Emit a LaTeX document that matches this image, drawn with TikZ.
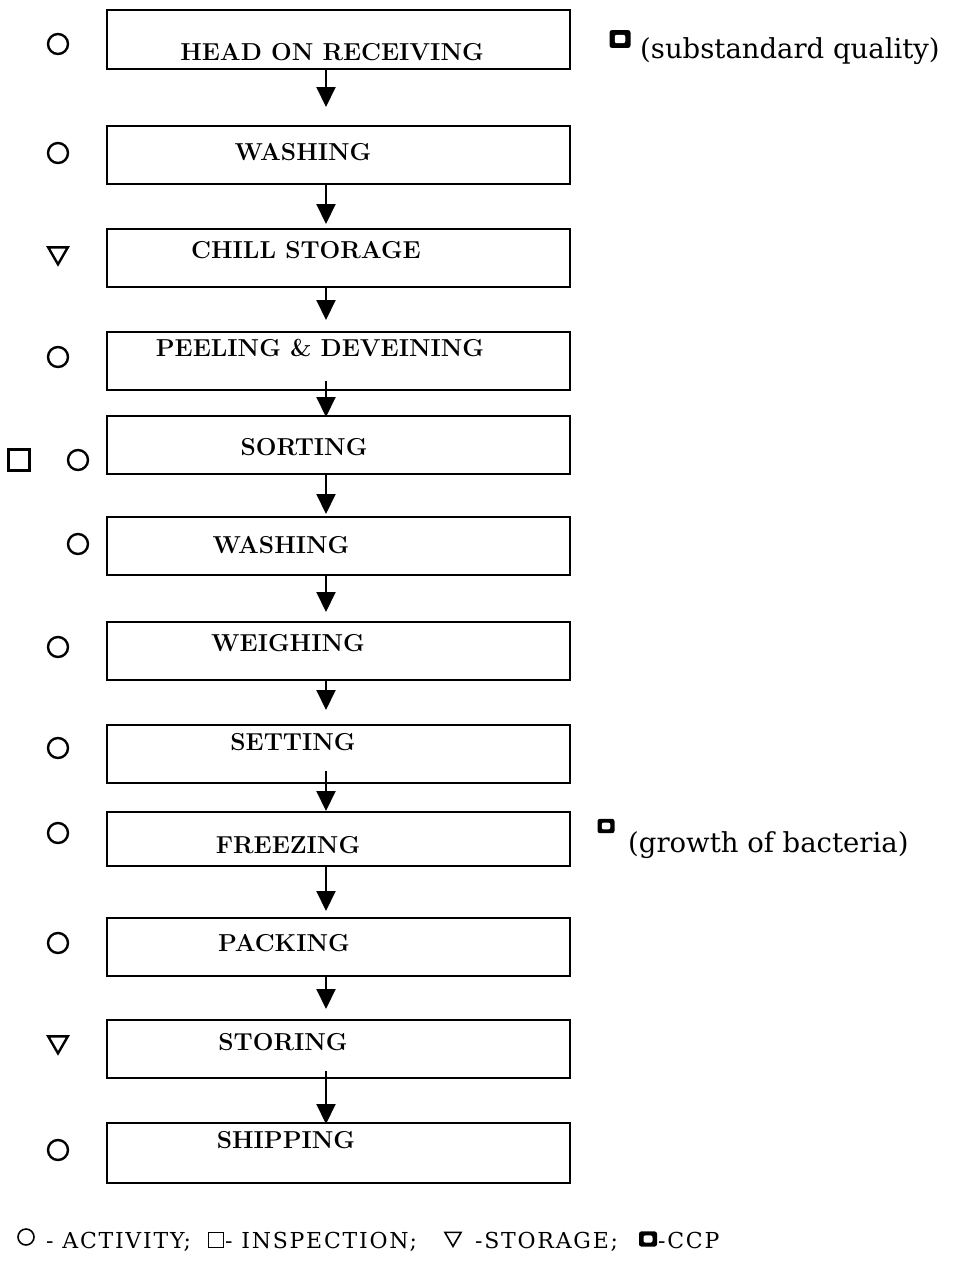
\documentclass[tikz,border=0pt]{standalone}
\usepackage{fontspec}
\newfontfamily\dvs{DejaVu Serif}
\newfontfamily\dvsl[LetterSpace=8]{DejaVu Serif}
\usetikzlibrary{arrows.meta,shapes.geometric}
\begin{document}
\begin{tikzpicture}[x=1pt,y=-1pt,
  box/.style={draw,line width=2pt,minimum width=463pt,inner sep=0pt},
  lbl/.style={font=\fontsize{24.5}{28}\selectfont\bfseries,inner sep=0pt},
  arr/.style={line width=2pt,-{Triangle[width=19pt,length=20pt]}},
  act/.style={draw,circle,line width=2.4pt,minimum size=20pt,inner sep=0pt},
  insp/.style={draw,line width=2.4pt,minimum size=21pt,inner sep=0pt},
  stor/.style={draw,isosceles triangle,shape border rotate=-90,isosceles triangle apex angle=60,line width=2.4pt,minimum height=17pt,inner sep=0pt},
  side/.style={font=\dvs\fontsize{27.5}{32}\selectfont,inner sep=0pt,anchor=base west},
  leg/.style={font=\dvsl\fontsize{22}{26}\selectfont,inner sep=0pt,anchor=base west}]
\useasboundingbox (0,0) rectangle (956,1267);
% boxes
\node[box,minimum height=59pt] (b1) at (338.5,39.5) {};
\node[box,minimum height=58pt] (b2) at (338.5,155) {};
\node[box,minimum height=58pt] (b3) at (338.5,258) {};
\node[box,minimum height=58pt] (b4) at (338.5,361) {};
\node[box,minimum height=58pt] (b5) at (338.5,445) {};
\node[box,minimum height=58pt] (b6) at (338.5,546) {};
\node[box,minimum height=58pt] (b7) at (338.5,651) {};
\node[box,minimum height=58pt] (b8) at (338.5,754) {};
\node[box,minimum height=54pt] (b9) at (338.5,839) {};
\node[box,minimum height=58pt] (b10) at (338.5,947) {};
\node[box,minimum height=58pt] (b11) at (338.5,1049) {};
\node[box,minimum height=60pt] (b12) at (338.5,1153) {};
% labels
\node[lbl] (t1) at (332,52) {HEAD ON RECEIVING};
\node[lbl] (t2) at (303,152) {WASHING};
\node[lbl] (t3) at (306,250) {CHILL STORAGE};
\node[lbl] (t4) at (320,348) {PEELING \& DEVEINING};
\node[lbl] (t5) at (304,447) {SORTING};
\node[lbl] (t6) at (281,545) {WASHING};
\node[lbl] (t7) at (288,643) {WEIGHING};
\node[lbl] (t8) at (293,742) {SETTING};
\node[lbl] (t9) at (288,845) {FREEZING};
\node[lbl] (t10) at (284,943) {PACKING};
\node[lbl] (t11) at (283,1042) {STORING};
\node[lbl] (t12) at (286,1140) {SHIPPING};
% arrows
\def\ax{-12.5pt}
\draw[arr,shorten >=18pt] ([xshift=\ax]b1.south) -- ([xshift=\ax]b2.north);
\draw[arr,shorten >=4pt] ([xshift=\ax]b2.south) -- ([xshift=\ax]b3.north);
\draw[arr,shorten >=11pt] ([xshift=\ax]b3.south) -- ([xshift=\ax]b4.north);
\draw[arr,shorten <=-10pt,shorten >=-2pt] ([xshift=\ax]b4.south) -- ([xshift=\ax]b5.north);
\draw[arr,shorten >=2pt] ([xshift=\ax]b5.south) -- ([xshift=\ax]b6.north);
\draw[arr,shorten >=9pt] ([xshift=\ax]b6.south) -- ([xshift=\ax]b7.north);
\draw[arr,shorten >=14pt] ([xshift=\ax]b7.south) -- ([xshift=\ax]b8.north);
\draw[arr,shorten <=-13pt] ([xshift=\ax]b8.south) -- ([xshift=\ax]b9.north);
\draw[arr,shorten >=6pt] ([xshift=\ax]b9.south) -- ([xshift=\ax]b10.north);
\draw[arr,shorten >=10pt] ([xshift=\ax]b10.south) -- ([xshift=\ax]b11.north);
\draw[arr,shorten <=-8pt,shorten >=-2pt] ([xshift=\ax]b11.south) -- ([xshift=\ax]b12.north);
% left symbols
\node[act] (s1) at (58,44) {};
\node[act] (s2) at (58,153) {};
\node[stor] (s3) at (58,253) {};
\node[act] (s4) at (58,357) {};
\node[insp] (s5a) at (19,460) {};
\node[act] (s5b) at (78,460) {};
\node[act] (s6) at (78,544) {};
\node[act] (s7) at (58,647) {};
\node[act] (s8) at (58,748) {};
\node[act] (s9) at (58,833) {};
\node[act] (s10) at (58,943) {};
\node[stor] (s11) at (58,1042) {};
\node[act] (s12) at (58,1150) {};
% CCP marks
\newcommand{\ccpmark}[3]{%
  \fill[rounded corners=2.5pt] (#1-#3,#2-0.85*#3) rectangle (#1+#3,#2+0.85*#3);
  \fill[white,rounded corners=2pt] (#1-0.5*#3,#2-0.4*#3) rectangle (#1+0.5*#3,#2+0.4*#3);}
\ccpmark{620}{39}{10.5}
\node[side] (c1) at (640,58) {(substandard quality)};
\ccpmark{606}{826}{8.5}
\node[side] (c2) at (628,852) {(growth of bacteria)};
% legend
\node[draw,circle,line width=1.6pt,minimum size=16pt,inner sep=0pt] (l1) at (26,1237) {};
\node[leg] (l1t) at (46,1248) {- ACTIVITY;};
\node[draw,line width=1.6pt,minimum size=15pt,inner sep=0pt] (l2) at (216,1240) {};
\node[leg] (l2t) at (225,1248) {- INSPECTION;};
\node[draw,isosceles triangle,shape border rotate=-90,isosceles triangle apex angle=60,line width=1.6pt,minimum height=14pt,inner sep=0pt] (l3) at (453,1237) {};
\node[leg] (l3t) at (475,1248) {-STORAGE;};
\ccpmark{648}{1239}{9}
\node[leg] (l4t) at (658,1248) {-CCP};
\end{tikzpicture}
\end{document}
